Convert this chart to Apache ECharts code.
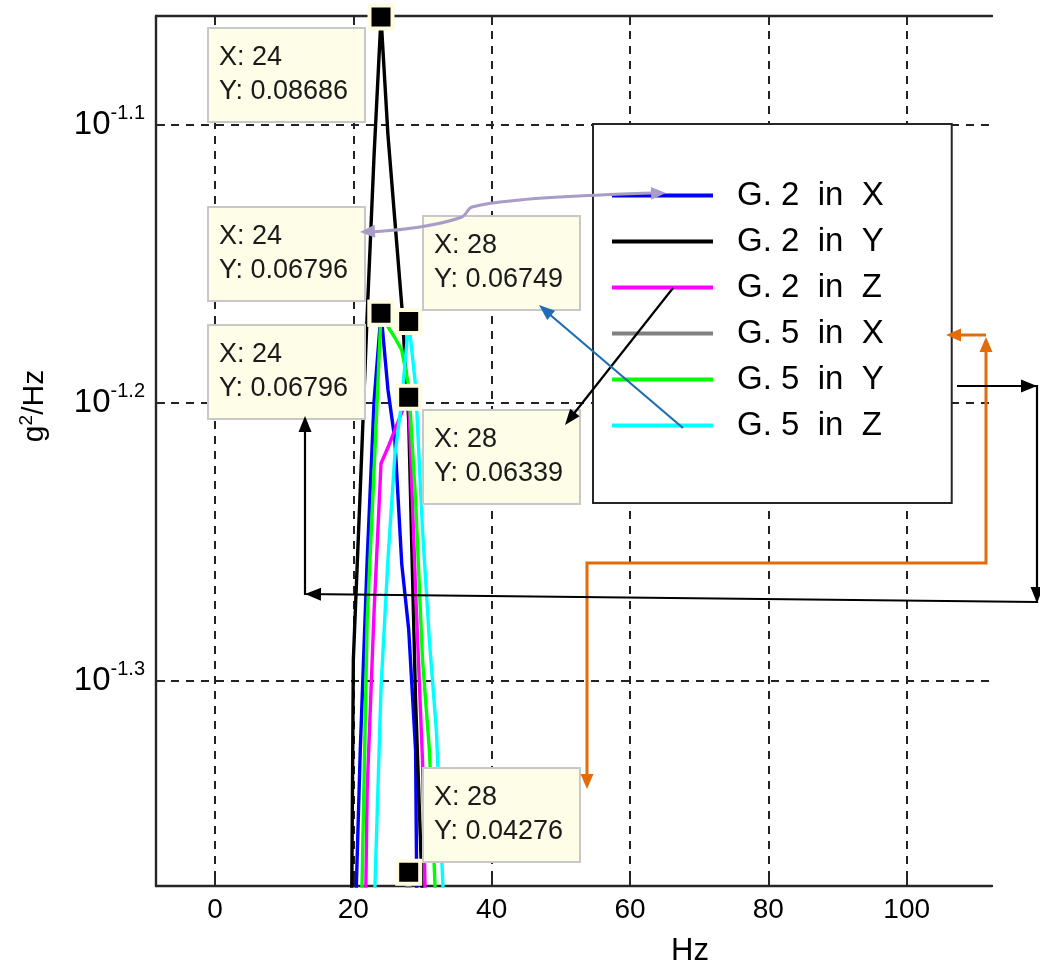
<!DOCTYPE html>
<html>
<head>
<meta charset="utf-8">
<script src="https://cdn.jsdelivr.net/npm/echarts@6/dist/echarts.min.js"></script>
<style>
html,body{margin:0;padding:0;background:#ffffff;}
#chart{width:1040px;height:972px;}
</style>
</head>
<body>
<div id="chart"></div>
<script>
// ---------------- data ----------------
const freqHz = [18,19,20,21,22,23,24,25,26,27,28,29,30,31,32,33,34,35,36];
const g2InX = [0.008,0.015,0.0388,0.0473,0.0554,0.0632,0.06796,0.0638,0.0612,0.0552,0.0523,0.0473,0.0234,0.012,0.009,0.007,0.006,0.005,0.005];
const g2InY = [0.010,0.022,0.0510,0.0587,0.0679,0.0775,0.08686,0.0788,0.0734,0.0684,0.0622,0.0493,0.0418,0.025,0.015,0.010,0.008,0.006,0.005];
const g2InZ = [0.006,0.009,0.015,0.0300,0.0458,0.0531,0.0600,0.0608,0.0617,0.0626,0.06339,0.0540,0.0469,0.0351,0.015,0.010,0.008,0.006,0.005];
const g5InX = [0.005,0.007,0.009,0.012,0.016,0.020,0.025,0.030,0.036,0.0405,0.04276,0.0398,0.034,0.028,0.021,0.015,0.011,0.008,0.006];
const g5InY = [0.006,0.010,0.020,0.0393,0.0527,0.0597,0.06796,0.0672,0.0666,0.0659,0.0640,0.0582,0.0510,0.0473,0.0412,0.020,0.012,0.008,0.006];
const g5InZ = [0.005,0.006,0.008,0.011,0.020,0.0413,0.0498,0.0554,0.0604,0.0632,0.06749,0.0640,0.0568,0.0518,0.0481,0.0420,0.020,0.010,0.006];
const seriesNames = ['G. 2  in  X','G. 2  in  Y','G. 2  in  Z','G. 5  in  X','G. 5  in  Y','G. 5  in  Z'];
const xTickValues = [0,20,40,60,80,100];
const yTickExponents = [-1.3,-1.2,-1.1];
const tipFreq = [24,24,24,28,28,28];
const tipValue = [0.08686,0.06796,0.06796,0.06749,0.06339,0.04276];

// ---------------- styles / layout ----------------
const seriesValues = [g2InX,g2InY,g2InZ,g5InX,g5InY,g5InZ];
const seriesColors = ['#0000ff','#000000','#ff00ff','#808080','#00ff00','#00ffff'];
const SANS = '"Liberation Sans", Arial, Helvetica, sans-serif';
const AXIS_COLOR = '#262626';
const GRID_COLOR = '#222222';
// offsets of the datatip boxes from their markers (pixels)
const tipBoxOffsets = [[-173,11],[-173,-106],[-173,12],[14,-106],[14,13],[14,-104]];

const chart = echarts.init(document.getElementById('chart'), null, {renderer:'canvas'});

const lineSeries = seriesNames.map((name, i) => ({
  name: name,
  type: 'line',
  data: freqHz.map((f, k) => [f, Math.log10(seriesValues[i][k])]),
  showSymbol: false,
  symbol: 'none',
  clip: true,
  color: seriesColors[i],
  lineStyle: {color: seriesColors[i], width: 3.4},
  itemStyle: {color: seriesColors[i]},
  z: 2
}));

const tipSeries = {
  name: 'datatips',
  type: 'scatter',
  data: tipFreq.map((f, k) => [f, Math.log10(tipValue[k])]),
  symbol: 'rect',
  symbolSize: 23,
  itemStyle: {color: '#000000', borderColor: '#fffbe0', borderWidth: 4, opacity: 1},
  clip: false,
  z: 5,
  silent: true
};

const xMin = -8.53, xMax = 112.33;
const yMin = -1.3739, yMax = -1.0608;

const option = {
  animation: false,
  backgroundColor: '#ffffff',
  grid: {left: 156, right: 48, top: 16, bottom: 86, containLabel: false},
  legend: {
    data: seriesNames,
    orient: 'vertical',
    left: 593,
    top: 124,
    icon: 'rect',
    itemWidth: 101,
    itemHeight: 4,
    itemGap: 13,
    padding: [55, 68, 61, 19],
    backgroundColor: '#ffffff',
    borderColor: AXIS_COLOR,
    borderWidth: 2,
    selectedMode: false,
    textStyle: {fontFamily: SANS, fontSize: 33, lineHeight: 33, color: '#000000', padding: [0,0,0,19]},
    z: 10
  },
  xAxis: [{
    type: 'value',
    position: 'bottom',
    min: xMin, max: xMax,
    minInterval: 20, maxInterval: 20,
    name: 'Hz',
    nameLocation: 'middle',
    nameGap: 50,
    nameTextStyle: {fontFamily: SANS, fontSize: 31, color: '#000000', padding: [0,0,0,232]},
    axisLine: {show: true, onZero: false, lineStyle: {color: AXIS_COLOR, width: 2.4}},
    axisTick: {show: true, inside: true, length: 9, customValues: xTickValues, lineStyle: {color: AXIS_COLOR, width: 2}},
    axisLabel: {show: true, customValues: xTickValues, margin: 10, fontFamily: SANS, fontSize: 28, color: '#000000'},
    splitLine: {show: true, lineStyle: {color: GRID_COLOR, width: 2, type: [8,7]}}
  },{
    type: 'value',
    position: 'top',
    min: xMin, max: xMax,
    minInterval: 20, maxInterval: 20,
    axisLine: {show: true, onZero: false, lineStyle: {color: AXIS_COLOR, width: 2.4}},
    axisTick: {show: true, inside: true, length: 9, customValues: xTickValues, lineStyle: {color: AXIS_COLOR, width: 2}},
    axisLabel: {show: false},
    splitLine: {show: false}
  }],
  yAxis: {
    type: 'value',
    min: yMin, max: yMax,
    minInterval: 0.1, maxInterval: 0.1,
    name: '{n|g}{s|2}{n|/Hz}',
    nameLocation: 'middle',
    nameRotate: 90,
    nameGap: 104,
    nameTextStyle: {
      color: '#000000',
      padding: [0,0,0,90],
      rich: {
        n: {fontFamily: SANS, fontSize: 30, color: '#000000'},
        s: {fontFamily: SANS, fontSize: 19, color: '#000000', padding: [0,0,16,0]}
      }
    },
    axisLine: {show: true, onZero: false, lineStyle: {color: AXIS_COLOR, width: 2.4}},
    axisTick: {show: true, inside: true, length: 9, customValues: yTickExponents, lineStyle: {color: AXIS_COLOR, width: 2}},
    axisLabel: {
      show: true,
      customValues: yTickExponents,
      margin: 11,
      formatter: function (v) {
        const e = yTickExponents.find(t => Math.abs(t - v) < 1e-6);
        return e === undefined ? '' : '{b|10}{s|' + e.toFixed(1) + '}';
      },
      rich: {
        b: {fontFamily: SANS, fontSize: 33, color: '#000000'},
        s: {fontFamily: SANS, fontSize: 20, color: '#000000', padding: [0,0,22,0]}
      }
    },
    splitLine: {show: true, lineStyle: {color: GRID_COLOR, width: 2, type: [8,7]}}
  },
  series: lineSeries.concat([tipSeries])
};

chart.setOption(option);

// ---------------- datatip boxes & annotation arrows ----------------
const graphics = [];
const BOX_W = 157, BOX_H = 94;
tipFreq.forEach((f, k) => {
  const p = chart.convertToPixel({xAxisIndex: 0, yAxisIndex: 0}, [f, Math.log10(tipValue[k])]);
  const bx = Math.round(p[0] + tipBoxOffsets[k][0]);
  const by = Math.round(p[1] + tipBoxOffsets[k][1]);
  graphics.push({
    type: 'rect', z: 50,
    shape: {x: bx, y: by, width: BOX_W, height: BOX_H},
    style: {fill: '#fdfde8', stroke: '#c8c8c8', lineWidth: 2}
  });
  graphics.push({
    type: 'text', z: 51,
    style: {
      x: bx + 11, y: by + 13,
      text: 'X: ' + f + '\nY: ' + tipValue[k].toFixed(5),
      font: '27px ' + SANS,
      lineHeight: 34,
      fill: '#1a1a1a',
      textAlign: 'left', textVerticalAlign: 'top'
    }
  });
});

function arrowHead(tip, from, len, wid, color) {
  const dx = tip[0] - from[0], dy = tip[1] - from[1];
  const L = Math.hypot(dx, dy);
  const ux = dx / L, uy = dy / L;
  const bx = tip[0] - ux * len, by = tip[1] - uy * len;
  const px = -uy * wid / 2, py = ux * wid / 2;
  return {type: 'polygon', z: 101, shape: {points: [tip, [bx + px, by + py], [bx - px, by - py]]}, style: {fill: color}};
}
function poly(points, color, width, smooth) {
  return {type: 'polyline', z: 100, shape: {points: points, smooth: smooth || 0},
    style: {stroke: color, lineWidth: width, fill: null, lineJoin: 'miter'}};
}

// lavender double arrow: legend (G.2 in X) <-> datatip
const LAV = '#a99cc7';
graphics.push(poly([[372,232],[420,227],[462,217],[472,207],[520,200],[600,195],[652,193]], LAV, 3, 0.35));
graphics.push(arrowHead([360,232],[380,231],15,13,LAV));
graphics.push(arrowHead([666,193],[646,193.5],15,13,LAV));
// black arrow: G.2 in Z -> datatip
graphics.push(poly([[673,288],[572,416]], '#000000', 2.2));
graphics.push(arrowHead([565,425],[673,288],16,12,'#000000'));
// blue arrow: G.5 in Z -> datatip
const BLU = '#1f6db5';
graphics.push(poly([[683,428],[548,313]], BLU, 2.2));
graphics.push(arrowHead([539,305],[683,428],16,12,BLU));
// orange path: G.5 in X -> datatip
const ORG = '#e36c09';
graphics.push(poly([[986,350],[986,563],[587,563],[587,775]], ORG, 3));
graphics.push(arrowHead([986,337],[986,360],15,13,ORG));
graphics.push(arrowHead([587,789],[587,760],15,13,ORG));
graphics.push(poly([[986,335],[958,335]], ORG, 3));
graphics.push(arrowHead([946,335],[970,335],15,13,ORG));
// black path: G.5 in Y -> datatip
graphics.push(poly([[957,386],[1037,386],[1037,602],[305,594],[305,420]], '#000000', 2.2));
graphics.push(arrowHead([1037,386],[1000,386],16,13,'#000000'));
graphics.push(arrowHead([1037,603],[1037,560],16,13,'#000000'));
graphics.push(arrowHead([305,594],[340,594.4],16,13,'#000000'));
graphics.push(arrowHead([305,416],[305,450],16,13,'#000000'));

chart.setOption({graphic: graphics});
</script>
</body>
</html>
